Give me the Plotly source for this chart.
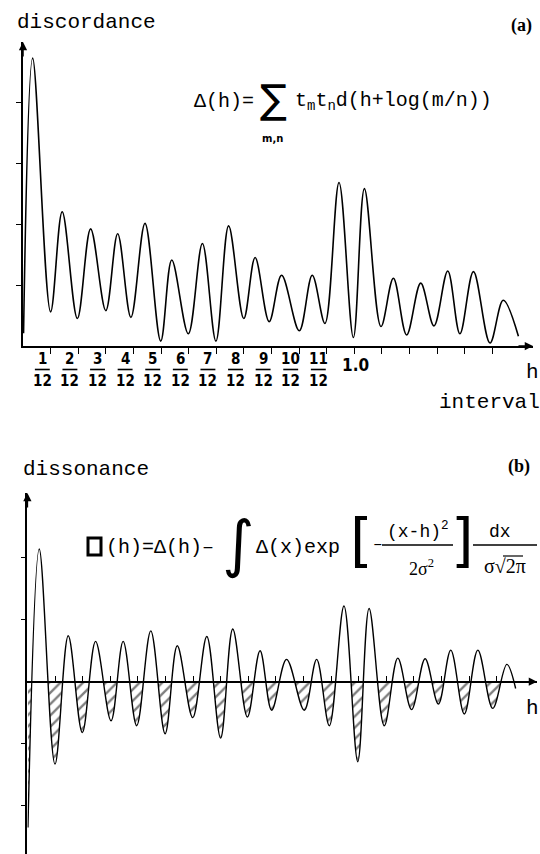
import plotly.graph_objects as go

# ---------------- data ----------------
# h positions in twelfths of an octave (semitones); values in axis-tick units
disc_h = [0.02, 0.35, 1.0, 1.42, 1.97, 2.45, 3.0, 3.43, 3.91, 4.42, 4.99, 5.39, 5.99, 6.50,
          6.99, 7.45, 8.0, 8.41, 8.92, 9.37, 10.01, 10.48, 10.94, 11.45, 11.97, 12.37, 12.97,
          13.42, 13.90, 14.41, 14.89, 15.39, 15.83, 16.32, 16.92, 17.40, 17.95]
disc_v = [0.21, 4.72, 0.56, 2.20, 0.45, 1.92, 0.58, 1.84, 0.47, 2.01, 0.08, 1.41, 0.20, 1.68,
          0.08, 1.97, 0.45, 1.45, 0.40, 1.16, 0.25, 1.16, 0.37, 2.68, 0.14, 2.58, 0.32,
          1.11, 0.18, 1.03, 0.33, 1.23, 0.20, 1.22, 0.05, 0.75, 0.16]

diss_h = [0.02, 0.43, 1.0, 1.48, 1.99, 2.47, 3.03, 3.47, 3.96, 4.47, 4.99, 5.43, 5.99, 6.50,
          7.0, 7.44, 7.97, 8.43, 8.85, 9.39, 10.03, 10.48, 10.94, 11.47, 11.97, 12.38, 12.93,
          13.42, 13.92, 14.41, 14.89, 15.34, 15.83, 16.32, 16.86, 17.37, 17.69]
diss_v = [-2.35, 2.14, -1.33, 0.74, -0.82, 0.65, -0.63, 0.65, -0.71, 0.82, -0.84, 0.58, -0.58,
          0.73, -0.91, 0.85, -0.57, 0.50, -0.46, 0.36, -0.46, 0.36, -0.71, 1.22, -1.29, 1.18,
          -0.71, 0.38, -0.45, 0.37, -0.36, 0.51, -0.52, 0.51, -0.43, 0.28, -0.11]

tick_semitones = list(range(1, 18))
frac_numerators = ["1", "2", "3", "4", "5", "6", "7", "8", "9", "10", "11"]
frac_denominator = "12"
octave_label = "1.0"
disc_yticks = [1, 2, 3, 4]
diss_yticks = [-2, -1, 1, 2]

# ---------------- layout geometry ----------------
W, H = 540, 854
def px(x): return x / W
def py(y): return 1 - y / H

SEMI = 27.6  # px per semitone
xa_dom = [px(23), px(533)]
xa_rng = [0, (533 - 23) / SEMI / 12]
ya_dom = [py(346), py(42)]
ya_rng = [0, (346 - 42) / 61]

xb_dom = [px(27.4), px(537)]
xb_rng = [0, (537 - 27.4) / SEMI / 12]
yb_dom = [0, py(493)]
yb_rng = [(681.7 - 854) / 62, (681.7 - 493) / 62]
zero_p = py(681.7)

MONO = "Liberation Mono, DejaVu Sans Mono, monospace"
SERIF = "Liberation Serif, DejaVu Serif, serif"
NARROW = "Liberation Sans Narrow, DejaVu Sans Condensed, Liberation Sans, sans-serif"
SYM = "DejaVu Sans, sans-serif"

xa_h = [h / 12 for h in disc_h]
xb_h = [h / 12 for h in diss_h]
tickvals = [k / 12 for k in tick_semitones]

fig = go.Figure()
fig.add_trace(go.Scatter(x=xa_h, y=disc_v, xaxis="x", yaxis="y", mode="lines",
                         line=dict(color="black", width=1.6, shape="spline", smoothing=1.0),
                         showlegend=False, hoverinfo="skip"))
# hatched negative part: same curve on an axis clipped at the zero line
fig.add_trace(go.Scatter(x=xb_h, y=diss_v, xaxis="x2", yaxis="y3", mode="lines",
                         line=dict(color="black", width=0, shape="spline", smoothing=1.0),
                         fill="tozeroy", fillcolor="rgba(0,0,0,0)",
                         fillpattern=dict(shape="/", fgcolor="black", bgcolor="rgba(0,0,0,0)",
                                          size=8, solidity=0.3),
                         showlegend=False, hoverinfo="skip"))
fig.add_trace(go.Scatter(x=xb_h, y=diss_v, xaxis="x2", yaxis="y2", mode="lines",
                         line=dict(color="black", width=1.4, shape="spline", smoothing=1.0),
                         showlegend=False, hoverinfo="skip"))

ax_common = dict(showgrid=False, zeroline=False, showline=True, linecolor="black",
                 linewidth=1.6, tickcolor="black", tickwidth=1.4, showticklabels=False)

fig.update_layout(
    width=W, height=H, margin=dict(l=0, r=0, t=0, b=0),
    paper_bgcolor="white", plot_bgcolor="rgba(0,0,0,0)",
    xaxis=dict(domain=xa_dom, range=xa_rng, anchor="y", ticks="outside", ticklen=6,
               tickvals=tickvals, **ax_common),
    yaxis=dict(domain=ya_dom, range=ya_rng, anchor="x", ticks="outside", ticklen=5,
               tickvals=disc_yticks, **ax_common),
    xaxis2=dict(domain=xb_dom, range=xb_rng, anchor="free", position=zero_p,
                ticks="inside", ticklen=5, tickvals=tickvals, **ax_common),
    yaxis2=dict(domain=yb_dom, range=yb_rng, anchor="x2", ticks="outside", ticklen=5,
                tickvals=diss_yticks, **ax_common),
    yaxis3=dict(domain=[0, zero_p], range=[yb_rng[0], 0], anchor="x2", visible=False,
                showgrid=False, zeroline=False),
)

ann = []
def arrow(x, y, xr, yr, ax, ay):
    ann.append(dict(x=x, y=y, xref=xr, yref=yr, ax=ax, ay=ay, text="", showarrow=True,
                    arrowhead=2, arrowsize=1.1, arrowwidth=1.5, arrowcolor="black"))
arrow(0, ya_rng[1], "x", "y", 0, 16)
arrow(xa_rng[1], 0, "x", "y", -16, 0)
arrow(0, yb_rng[1], "x2", "y2", 0, 16)
arrow(xb_rng[1], 0, "x2", "y2", -16, 0)

def txt(x, y, s, size, family=MONO, xanchor="center", xref="paper", color="black"):
    ann.append(dict(x=x, y=y, xref=xref, yref="paper", text=s, showarrow=False,
                    xanchor=xanchor, yanchor="middle",
                    font=dict(family=family, size=size, color=color)))

shapes = []
def hline(x0, x1, y, xref="paper", w=1.5):
    shapes.append(dict(type="line", xref=xref, yref="paper", x0=x0, x1=x1, y0=y, y1=y,
                       line=dict(color="black", width=w)))

# fraction tick labels, panel (a)
for k, num in zip(tick_semitones, frac_numerators):
    c = (k - 0.3) / 12
    txt(c, py(359), "<b>" + num + "</b>", 15, NARROW, xref="x")
    txt(c, py(381), "<b>" + frac_denominator + "</b>", 15, NARROW, xref="x")
    hline(c - 0.27 / 12, c + 0.27 / 12, py(369.5), xref="x", w=1.6)
txt(12.05 / 12, py(365), "<b>" + octave_label + "</b>", 17, NARROW, xref="x")

# titles and labels
txt(px(15), py(22), "discordance", 21, MONO, xanchor="left")
txt(px(521), py(25), "<b>(a)</b>", 18, SERIF)
txt(px(532), py(372), "h", 21, MONO)
txt(px(489), py(402), "interval", 21, MONO)

txt(px(21), py(469), "dissonance", 21, MONO, xanchor="left")
txt(px(519), py(466), "<b>(b)</b>", 18, SERIF)
txt(px(532), py(708), "h", 21, MONO)

# formula (a)
txt(px(192), py(101), "Δ(h)=", 20, MONO, xanchor="left")
txt(px(273), py(99), "∑", 40, SYM)
txt(px(272), py(139), "<b>m,n</b>", 10, SYM)
txt(px(293), py(101), "t<sub>m</sub>t<sub>n</sub>d(h+log(m/n))", 20, MONO, xanchor="left")

# formula (b)
shapes.append(dict(type="rect", xref="paper", yref="paper", x0=px(88), x1=px(101),
                   y0=py(555), y1=py(538), line=dict(color="black", width=3)))
txt(px(104), py(547), "(h)=Δ(h)–", 20, MONO, xanchor="left")
txt(px(238), py(543), "∫", 62, SYM)
txt(px(254), py(547), "Δ(x)exp", 20, MONO, xanchor="left")
txt(px(361), py(541), "[", 58, SYM)
txt(px(378), py(545), "–", 16, MONO)
txt(px(418), py(530), "(x-h)<sup>2</sup>", 18, MONO)
hline(px(382), px(453), py(545))
txt(px(421), py(567), "2σ<sup>2</sup>", 18, SERIF)
txt(px(462), py(541), "]", 58, SYM)
txt(px(500), py(532), "dx", 18, MONO)
hline(px(473), px(537), py(545))
txt(px(505), py(566), "σ√2π", 20, SERIF)
hline(px(503), px(523), py(556), w=1.2)

fig.update_layout(annotations=ann, shapes=shapes)
fig.write_html("out.html", config={"displayModeBar": False},
               post_script="document.body.style.margin='0';document.body.style.overflow='hidden';")
